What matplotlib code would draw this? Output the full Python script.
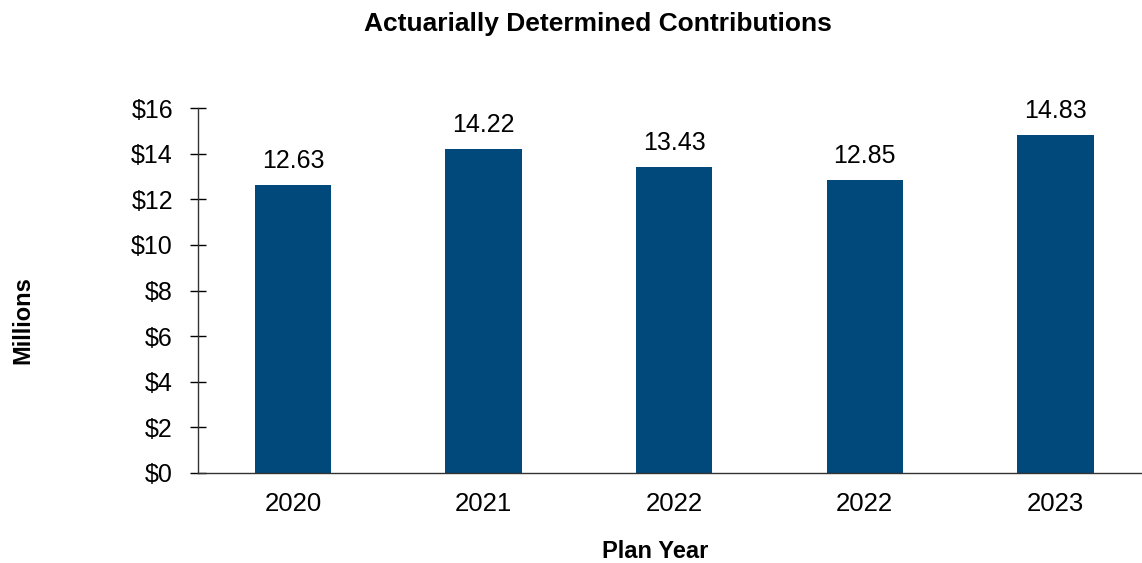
import matplotlib.pyplot as plt

plt.rcParams["font.family"] = ["Liberation Sans", "DejaVu Sans"]

years = ["2020", "2021", "2022", "2022", "2023"]
contributions = [12.63, 14.22, 13.43, 12.85, 14.83]
y_ticks = [0, 2, 4, 6, 8, 10, 12, 14, 16]
y_labels = ["$0", "$2", "$4", "$6", "$8", "$10", "$12", "$14", "$16"]

BAR_COLOR = "#00497a"

fig = plt.figure(figsize=(11.42, 5.63), dpi=100)
ax = fig.add_axes([0.173, 0.160, 0.827, 0.648])

x = range(len(years))
ax.bar(x, contributions, width=0.4, color=BAR_COLOR)

for xi, v in zip(x, contributions):
    ax.annotate(f"{v:.2f}", (xi, v), xytext=(0, 8.5), textcoords="offset points",
                ha="center", va="bottom", fontsize=18)

ax.set_xlim(-0.5, 4.454)
ax.set_ylim(0, 16)
ax.set_xticks(list(x))
ax.set_xticklabels(years)
ax.set_yticks(y_ticks)
ax.set_yticklabels(y_labels)

ax.tick_params(axis="y", direction="inout", length=11.5, width=1, pad=12, labelsize=18)
ax.tick_params(axis="x", length=0, pad=14, labelsize=18.5)

for side in ["top", "right"]:
    ax.spines[side].set_visible(False)
for side in ["left", "bottom"]:
    ax.spines[side].set_color("#333333")
    ax.spines[side].set_linewidth(1)

fig.text(0.524, 0.957, "Actuarially Determined Contributions", ha="center", va="center",
         fontsize=19, fontweight="bold")
fig.text(0.0197, 0.432, "Millions", rotation=90, ha="center", va="center",
         fontsize=17, fontweight="bold")
fig.text(0.574, 0.02, "Plan Year", ha="center", va="center",
         fontsize=17, fontweight="bold")

plt.savefig("out.png", dpi=100)
